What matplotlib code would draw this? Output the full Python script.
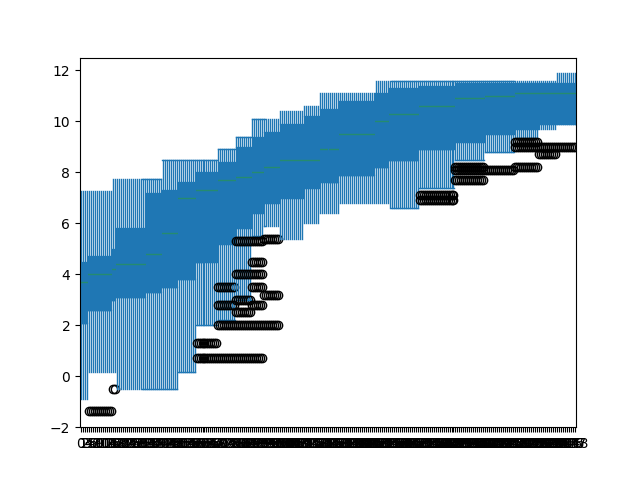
import matplotlib
matplotlib.use("Agg")
import matplotlib.pyplot as plt

# run-length segments of constant box statistics
counts = [4, 12, 2, 15, 8, 8, 9, 11, 9, 8, 6, 8, 12, 8, 10, 18, 7, 15, 18, 15, 15, 12, 9, 10]
lows   = [-0.9, 0.15, 0.15, -0.5, -0.5, -0.5, 0.15, 2.0, 2.2, 3.0, 5.5, 5.9, 5.4, 6.0, 6.4, 6.8, 6.8, 6.6, 7.4, 8.5, 8.8, 9.4, 9.7, 9.9]
q1s    = [2.1, 2.6, 3.0, 3.1, 3.3, 3.5, 3.8, 4.5, 5.2, 5.8, 6.4, 6.8, 7.0, 7.4, 7.6, 7.9, 8.2, 8.5, 8.9, 9.2, 9.5, 9.7, 9.9, 9.9]
meds   = [3.7, 4.0, 4.2, 4.4, 4.8, 5.6, 7.0, 7.3, 7.7, 7.8, 8.0, 8.2, 8.5, 8.5, 8.9, 9.5, 10.0, 10.3, 10.6, 10.9, 11.0, 11.1, 11.1, 11.1]
q3s    = [4.5, 4.7, 5.0, 5.8, 7.2, 7.3, 7.6, 8.0, 8.4, 9.0, 9.4, 9.6, 9.9, 10.2, 10.5, 10.8, 11.1, 11.3, 11.4, 11.5, 11.5, 11.5, 11.5, 11.5]
highs  = [7.25, 7.25, 7.75, 7.75, 7.75, 8.5, 8.5, 8.5, 8.9, 9.4, 10.1, 10.1, 10.4, 10.6, 11.1, 11.1, 11.6, 11.6, 11.6, 11.6, 11.6, 11.6, 11.6, 11.9]
fliers = [[], [-1.35], [-0.5], [], [], [], [], [0.7, 1.3], [0.7, 2.0, 2.8, 3.5],
          [0.7, 2.0, 2.5, 3.0, 4.0, 5.3], [0.7, 2.0, 2.8, 3.5, 4.0, 4.5, 5.3],
          [2.0, 3.2, 5.4], [], [], [], [], [], [], [6.9, 7.1], [7.7, 8.1, 8.2],
          [8.1], [8.2, 9.0, 9.2], [8.7, 9.0], [9.0]]

stats = []
for c, lo, a, m, b, hi, fl in zip(counts, lows, q1s, meds, q3s, highs, fliers):
    for _ in range(c):
        stats.append(dict(whislo=lo, q1=a, med=m, q3=b, whishi=hi, fliers=fl))
labels = [str(i) for i in range(len(stats))]

fig, ax = plt.subplots(figsize=(6.4, 4.8), dpi=100)
ax.bxp(stats, positions=range(1, len(stats) + 1),
       boxprops=dict(color="C0"), whiskerprops=dict(color="C0"),
       capprops=dict(color="C0"), medianprops=dict(color="C2"))
ax.set_xticks(range(1, len(stats) + 1))
ax.set_xticklabels(labels)
ax.set_ylim(-2, 12.5)
ax.set_yticks([-2, 0, 2, 4, 6, 8, 10, 12])
fig.savefig("out.png")
